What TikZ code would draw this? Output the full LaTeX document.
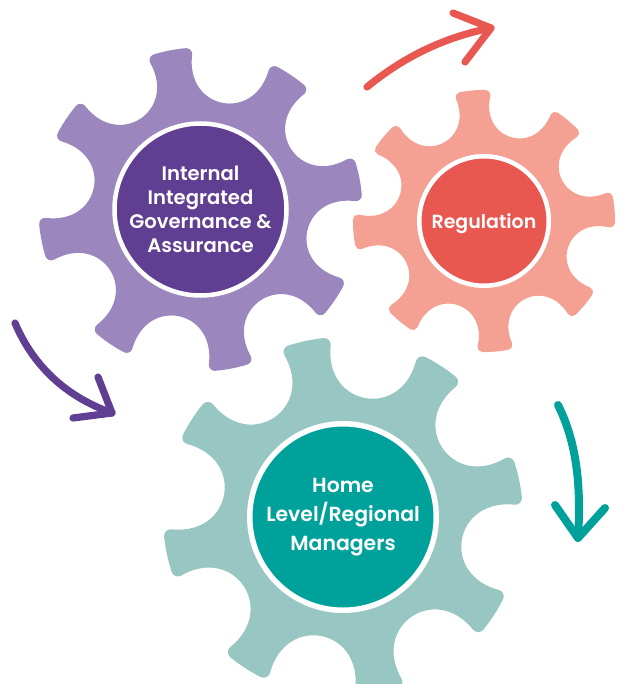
\documentclass[tikz,border=0pt]{standalone}
\usepackage{fontspec}
\setmainfont{Poppins}[BoldFont={Poppins SemiBold}]
\definecolor{lilac}{HTML}{9B87BE}
\definecolor{grape}{HTML}{603E91}
\definecolor{peach}{HTML}{F4A193}
\definecolor{coral}{HTML}{E95751}
\definecolor{mint}{HTML}{97C6C3}
\definecolor{jade}{HTML}{00A19B}
\begin{document}
\begin{tikzpicture}[x=0.5pt, y=0.5pt, line join=round, line cap=round,
  hub/.style={circle, draw=white, line width=2.25pt, inner sep=0pt, text=white, align=center},
  swing/.style={line width=3.6pt}]
\def\drawcog#1#2#3#4{%
  \begin{scope}[shift={#1}, scale=#2, rotate=#3]
  \fill[#4, draw=#4, line width=#2*6pt] (-5.73:156)
    \foreach \k in {0,...,7} {arc[start angle=45*\k-5.73, end angle=45*\k+5.73, radius=156]
      .. controls ({45*\k-2.09}:96.12) and ({45*\k+47.09}:96.12) .. ({45*\k+39.27}:156)} -- cycle;
  \end{scope}}
\useasboundingbox (0,0) rectangle (621,-684);
\clip (0,0) rectangle (621,-684);
\drawcog{(200.5,-209.5)}{1}{101}{lilac}
\drawcog{(484,-221)}{0.809}{95}{peach}
\drawcog{(343,-517)}{1.111}{102}{mint}
\node[hub, fill=grape, minimum size=86pt, font=\bfseries\fontsize{9.8}{12.05}\selectfont] (governance) at (200.5,-209.5)
  {Internal\\Integrated\\Governance \&\\Assurance};
\node[hub, fill=coral, minimum size=64.75pt, text depth=0pt, font=\bfseries\fontsize{9.5}{12}\selectfont] (regulation) at (484,-221) {Regulation};
\node[hub, fill=jade, minimum size=93.25pt, line width=2.75pt, font=\bfseries\fontsize{10.2}{14.35}\selectfont] (managers) at (343,-517)
  {Home\\Level/Regional\\Managers};
\coordinate (redtail) at (367,-87); \coordinate (redtip) at (491,-28);
\coordinate (redup) at (453,-13); \coordinate (redlow) at (465,-62);
\draw[swing, coral] (redtail) .. controls (400,-60) and (440,-38) .. (redtip);
\draw[swing, coral] (redup) -- (redtip) -- (redlow);
\coordinate (grapetail) at (15,-323); \coordinate (grapetip) at (112,-413);
\coordinate (grapeup) at (98,-377); \coordinate (grapelow) at (73,-418);
\draw[swing, grape] (grapetail) .. controls (35,-370) and (70,-398) .. (grapetip);
\draw[swing, grape] (grapeup) -- (grapetip) -- (grapelow);
\coordinate (jadetail) at (558,-405); \coordinate (jadetip) at (578,-538);
\coordinate (jadeleft) at (555,-505); \coordinate (jaderight) at (605,-508);
\draw[swing, jade, line width=4pt] (jadetail) .. controls (578,-445) and (581,-490) .. (jadetip);
\draw[swing, jade, line width=4pt] (jadeleft) -- (jadetip) -- (jaderight);
\end{tikzpicture}
\end{document}
